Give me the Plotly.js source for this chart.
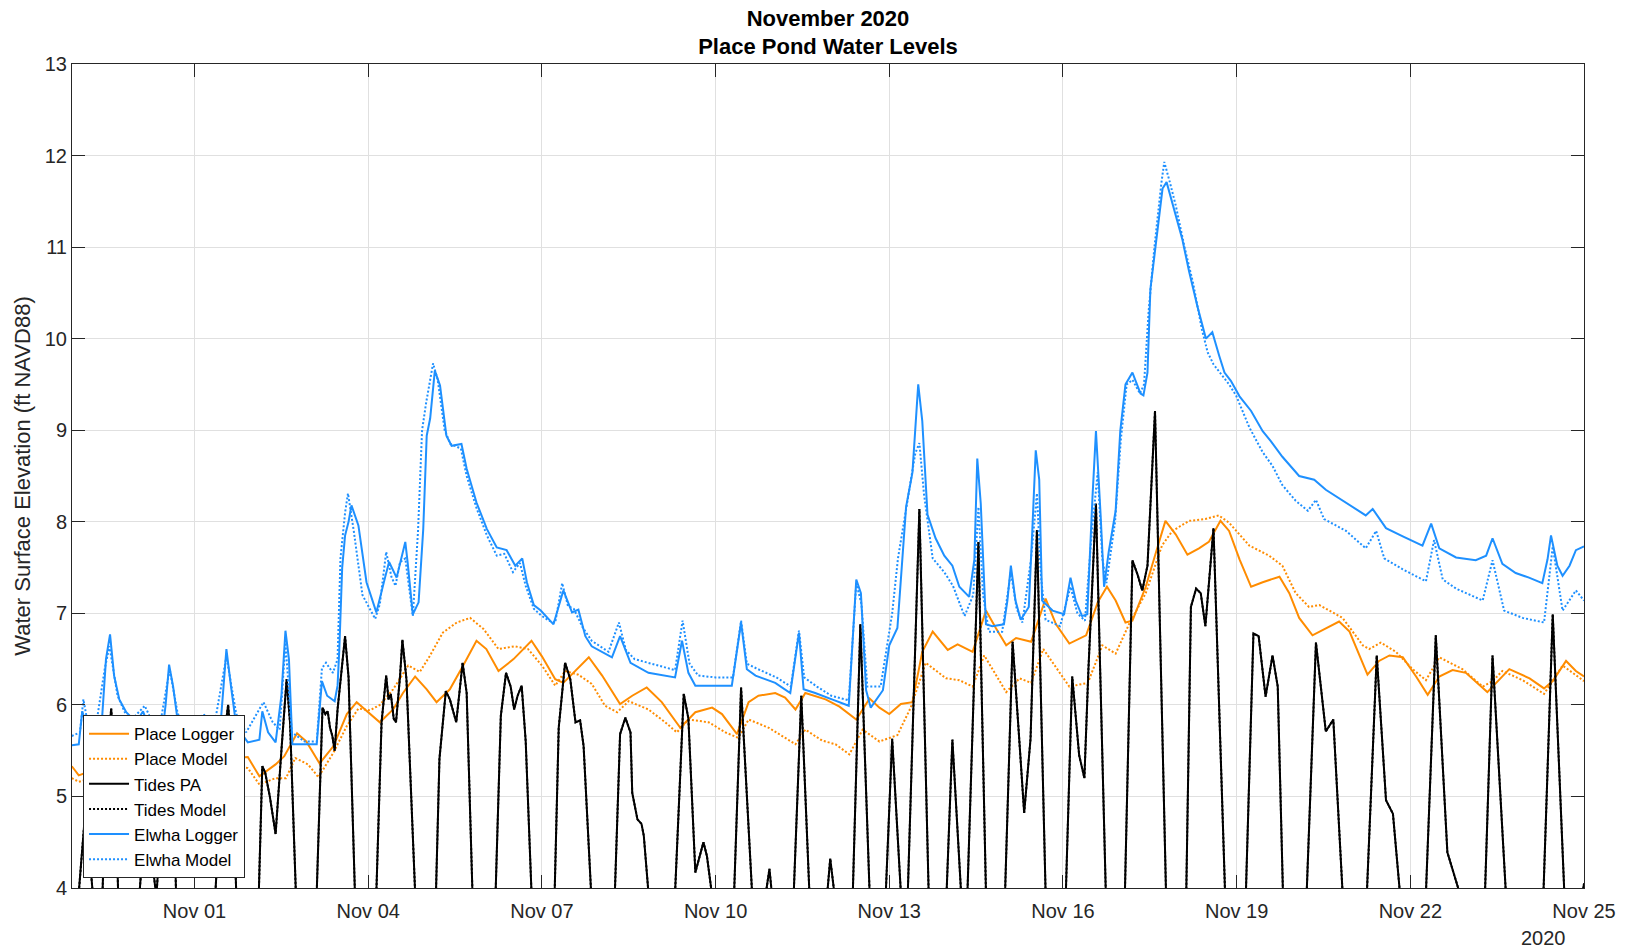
<!DOCTYPE html>
<html>
<head>
<meta charset="utf-8">
<script src="https://cdn.plot.ly/plotly-3.0.1.min.js"></script>
<style>html,body{margin:0;padding:0;background:#fff;}#chart{width:1629px;height:952px;}</style>
</head>
<body>
<div id="chart"></div>
<script>
// Time values are days since 2020-11-01 00:00

const elwhaLoggerDay = [-2.12,-2.0,-1.94,-1.90,-1.85,-1.70,-1.62,-1.53,-1.46,-1.39,
-1.30,-1.18,-1.01,-0.89,-0.80,-0.66,-0.55,-0.50,-0.44,-0.37,
-0.28,-0.08,0.09,0.16,0.23,0.43,0.50,0.55,0.63,0.72,
0.92,1.12,1.17,1.27,1.40,1.50,1.57,1.63,1.69,2.11,
2.20,2.29,2.42,2.47,2.50,2.55,2.60,2.66,2.71,2.83,
2.97,3.14,3.29,3.36,3.49,3.58,3.64,3.68,3.77,3.87,
3.95,4.01,4.07,4.15,4.24,4.35,4.44,4.61,4.70,4.87,
5.05,5.22,5.39,5.54,5.66,5.74,5.86,5.98,6.12,6.20,
6.37,6.52,6.63,6.75,6.86,7.21,7.35,7.53,7.84,8.13,
8.30,8.42,8.53,8.65,9.28,9.44,9.54,9.69,10.03,10.29,
10.44,10.52,10.72,11.01,11.30,11.43,11.51,11.60,11.68,11.89,
12.00,12.14,12.29,12.40,12.50,12.57,12.66,12.80,12.95,13.09,
13.21,13.38,13.47,13.52,13.58,13.67,13.78,13.98,14.04,14.10,
14.18,14.27,14.41,14.47,14.53,14.59,14.64,14.82,15.02,15.13,
15.22,15.33,15.42,15.51,15.57,15.65,15.71,15.79,15.91,15.99,
16.08,16.20,16.34,16.39,16.46,16.51,16.60,16.72,16.79,16.92,
17.06,17.18,17.32,17.47,17.58,17.70,17.79,17.90,18.05,18.25,
18.45,18.59,18.79,19.08,19.20,19.34,19.54,19.83,20.06,20.23,
20.35,20.58,20.87,21.21,21.36,21.50,21.79,22.13,22.31,22.42,
22.59,22.82,23.05,23.28,23.37,23.43,23.54,23.63,23.75,23.86,
24.0];
const elwhaLoggerFt = [5.56,5.57,5.93,5.85,5.63,5.55,5.64,6.5,6.77,6.32,
6.06,5.92,5.81,5.93,5.77,5.70,5.73,6.0,6.44,6.2,
5.77,5.70,5.66,5.84,5.65,5.63,6.2,6.61,6.2,5.77,
5.59,5.62,5.93,5.70,5.59,6.1,6.81,6.5,5.57,5.57,
6.26,6.1,6.04,6.21,6.6,7.5,7.85,8.0,8.18,7.96,
7.34,7.01,7.39,7.56,7.39,7.63,7.78,7.56,6.99,7.12,
7.92,8.94,9.13,9.65,9.49,8.94,8.83,8.85,8.58,8.21,
7.92,7.72,7.69,7.52,7.6,7.34,7.09,7.03,6.94,6.88,
7.25,7.01,7.04,6.75,6.64,6.52,6.75,6.46,6.35,6.32,
6.3,6.7,6.35,6.21,6.21,6.9,6.39,6.32,6.24,6.13,
6.79,6.17,6.13,6.06,5.99,7.37,7.22,6.16,5.97,6.16,
6.65,6.84,8.16,8.54,9.5,9.1,8.08,7.82,7.63,7.52,
7.29,7.18,7.59,8.69,8.2,6.88,6.86,6.88,7.14,7.52,
7.14,6.93,7.07,7.9,8.78,8.46,7.14,7.03,6.99,7.39,
7.14,6.97,6.99,8.27,8.99,8.08,7.29,7.67,8.12,8.99,
9.5,9.63,9.4,9.38,9.63,10.54,11.02,11.64,11.71,11.42,
11.09,10.73,10.36,10.0,10.07,9.81,9.63,9.54,9.37,9.21,
8.99,8.88,8.71,8.5,8.48,8.46,8.35,8.23,8.14,8.07,
8.14,7.93,7.84,7.74,7.98,7.71,7.61,7.58,7.63,7.82,
7.54,7.44,7.39,7.33,7.59,7.85,7.52,7.41,7.52,7.69,
7.73];

const elwhaModelDay = [-2.12,-1.98,-1.92,-1.86,-1.72,-1.55,-1.47,-1.33,-1.13,-0.86,
-0.72,-0.60,-0.43,-0.29,-0.03,0.16,0.32,0.55,0.72,0.89,
1.19,1.35,1.47,1.57,1.68,1.90,2.11,2.20,2.27,2.39,
2.47,2.52,2.60,2.65,2.75,2.90,3.12,3.20,3.31,3.40,
3.47,3.55,3.64,3.70,3.77,3.86,3.93,4.00,4.12,4.20,
4.32,4.42,4.60,4.70,4.87,5.05,5.22,5.35,5.50,5.62,
5.72,5.86,5.98,6.12,6.23,6.35,6.45,6.55,6.70,6.86,
7.15,7.33,7.45,7.60,7.90,8.20,8.30,8.43,8.55,8.70,
9.00,9.30,9.44,9.54,9.70,10.05,10.30,10.44,10.53,10.75,
11.00,11.30,11.43,11.52,11.62,11.85,12.05,12.15,12.30,12.45,
12.52,12.60,12.75,12.95,13.10,13.30,13.45,13.54,13.62,13.72,
13.95,14.10,14.20,14.30,14.45,14.55,14.62,14.70,14.95,15.13,
15.25,15.38,15.50,15.60,15.68,15.75,15.90,16.00,16.10,16.20,
16.33,16.40,16.48,16.58,16.70,16.75,16.85,16.95,17.10,17.25,
17.40,17.50,17.60,17.75,17.87,17.99,18.22,18.45,18.62,18.79,
19.02,19.23,19.37,19.51,19.89,20.23,20.41,20.55,20.87,21.27,
21.41,21.56,21.79,22.25,22.42,22.62,22.94,23.31,23.46,23.63,
23.86,24.00];
const elwhaModelFt = [5.66,5.70,6.06,5.85,5.70,6.40,6.64,6.10,5.81,5.99,
5.80,5.77,6.39,5.90,5.77,5.90,5.70,6.53,5.90,5.70,
6.03,5.81,5.73,6.68,5.70,5.60,5.60,6.40,6.46,6.35,
6.50,7.60,8.10,8.31,7.90,7.20,6.94,7.10,7.67,7.40,
7.30,7.56,7.60,7.30,6.97,7.90,9.00,9.30,9.73,9.55,
9.00,8.85,8.80,8.50,8.15,7.85,7.63,7.65,7.45,7.55,
7.30,7.05,6.98,6.92,6.90,7.33,7.08,7.05,6.85,6.70,
6.58,6.90,6.60,6.50,6.45,6.40,6.38,6.92,6.45,6.32,
6.30,6.30,6.92,6.45,6.40,6.30,6.20,6.81,6.30,6.20,
6.10,6.05,7.33,7.10,6.20,6.20,7.00,7.60,8.20,8.75,
8.86,8.30,7.60,7.45,7.30,6.97,7.20,8.16,7.20,6.80,
6.80,7.45,7.05,6.90,7.60,8.31,7.40,6.93,6.86,7.29,
7.00,6.92,7.90,8.54,7.60,7.33,8.00,8.90,9.50,9.55,
9.40,9.50,10.30,11.00,11.70,11.93,11.70,11.45,11.00,10.60,
10.10,9.85,9.72,9.60,9.50,9.38,9.03,8.76,8.61,8.40,
8.23,8.12,8.24,8.03,7.90,7.71,7.90,7.60,7.48,7.35,
7.80,7.37,7.27,7.14,7.58,7.03,6.95,6.90,7.73,7.03,
7.25,7.14];

const placeLoggerDay = [-2.12,-2.00,-1.70,-1.30,-0.90,-0.50,-0.10,0.30,0.70,0.92,
1.12,1.40,1.55,1.77,1.93,2.16,2.40,2.63,2.80,2.97,
3.20,3.43,3.60,3.81,4.01,4.18,4.41,4.64,4.87,5.04,
5.25,5.51,5.82,6.00,6.23,6.37,6.60,6.81,7.04,7.35,
7.56,7.81,8.07,8.39,8.65,8.94,9.11,9.37,9.57,9.74,
10.03,10.20,10.38,10.55,10.90,11.14,11.43,11.66,11.83,12.00,
12.20,12.40,12.57,12.75,13.01,13.18,13.44,13.67,13.84,14.02,
14.19,14.45,14.70,14.88,15.11,15.40,15.60,15.76,15.91,16.08,
16.20,16.43,16.66,16.77,16.95,17.15,17.35,17.52,17.72,17.87,
18.05,18.25,18.45,18.74,18.91,19.08,19.31,19.49,19.77,19.95,
20.26,20.46,20.64,20.87,21.10,21.30,21.50,21.73,21.96,22.33,
22.48,22.71,23.06,23.31,23.46,23.69,23.86,24.00];
const placeLoggerFt = [5.33,5.23,5.30,5.45,5.35,5.50,5.38,5.52,5.42,5.43,
5.22,5.35,5.44,5.69,5.60,5.36,5.55,5.90,6.03,5.94,
5.81,5.95,6.13,6.31,6.17,6.03,6.17,6.43,6.70,6.61,
6.37,6.50,6.70,6.53,6.28,6.24,6.39,6.52,6.32,6.01,
6.10,6.19,6.03,5.75,5.92,5.97,5.90,5.68,6.03,6.10,
6.13,6.08,5.95,6.13,6.06,5.98,5.84,6.07,5.97,5.90,
6.01,6.03,6.58,6.80,6.60,6.66,6.58,7.03,6.84,6.65,
6.73,6.69,7.16,6.88,6.67,6.76,7.12,7.29,7.14,6.90,
6.92,7.29,7.78,8.01,7.86,7.64,7.71,7.78,8.01,7.90,
7.59,7.29,7.34,7.40,7.22,6.95,6.76,6.82,6.91,6.80,
6.33,6.48,6.54,6.52,6.31,6.11,6.31,6.38,6.35,6.14,
6.24,6.39,6.29,6.18,6.26,6.48,6.37,6.31];

const placeModelDay = [-2.12,-2.00,-1.50,-1.00,-0.50,0.00,0.50,0.92,1.12,1.40,
1.58,1.74,1.96,2.14,2.40,2.63,2.83,3.03,3.20,3.43,
3.69,3.89,4.06,4.29,4.53,4.76,4.99,5.25,5.53,5.76,
6.00,6.23,6.40,6.63,6.86,7.09,7.30,7.50,7.84,8.13,
8.33,8.53,8.88,9.17,9.39,9.57,9.92,10.15,10.38,10.55,
10.84,11.07,11.31,11.54,11.83,12.14,12.37,12.63,12.98,13.21,
13.44,13.64,14.02,14.25,14.45,14.66,15.11,15.43,15.68,15.91,
16.14,16.43,16.71,16.89,17.18,17.46,17.69,17.87,18.22,18.56,
18.79,19.02,19.25,19.43,19.83,20.18,20.29,20.49,20.75,21.04,
21.27,21.50,21.90,22.25,22.42,22.59,22.94,23.31,23.63,24.00];
const placeModelFt = [5.20,5.16,5.25,5.20,5.30,5.25,5.35,5.31,5.13,5.20,
5.20,5.42,5.35,5.21,5.48,5.77,5.96,5.94,6.00,6.17,
6.43,6.36,6.53,6.79,6.90,6.95,6.83,6.61,6.64,6.61,
6.43,6.21,6.37,6.33,6.23,5.99,5.92,6.04,5.95,5.81,
5.70,5.84,5.81,5.70,5.64,5.84,5.75,5.66,5.57,5.73,
5.61,5.57,5.46,5.73,5.60,5.67,5.97,6.46,6.29,6.27,
6.20,6.54,6.14,6.29,6.24,6.61,6.20,6.24,6.65,6.56,
6.88,7.22,7.74,7.90,8.01,8.03,8.07,7.99,7.74,7.63,
7.52,7.22,7.07,7.09,6.95,6.65,6.61,6.68,6.58,6.39,
6.27,6.52,6.39,6.20,6.26,6.37,6.27,6.12,6.43,6.26];

const tidesDay = [-2.12,-2.00,-1.88,-1.76,-1.68,-1.59,-1.52,-1.44,-1.38,-1.32,
-1.14,-0.95,-0.85,-0.75,-0.66,-0.55,-0.43,-0.37,-0.32,0.00,
0.36,0.50,0.58,0.64,0.72,0.92,1.11,1.17,1.22,1.30,
1.40,1.50,1.59,1.65,1.75,1.93,2.11,2.21,2.26,2.30,
2.34,2.38,2.42,2.47,2.60,2.66,2.77,2.95,3.14,3.23,
3.31,3.35,3.39,3.44,3.48,3.55,3.59,3.66,3.81,3.99,
4.17,4.23,4.34,4.41,4.52,4.63,4.70,4.80,5.00,5.20,
5.29,5.38,5.46,5.52,5.58,5.65,5.72,5.82,6.00,6.22,
6.29,6.40,6.49,6.58,6.66,6.72,6.85,7.05,7.26,7.35,
7.44,7.53,7.56,7.65,7.72,7.76,7.84,8.07,8.30,8.45,
8.53,8.65,8.79,8.85,8.94,9.13,9.32,9.44,9.63,9.75,
9.87,9.93,9.97,10.16,10.35,10.48,10.62,10.78,10.93,10.98,
11.05,11.20,11.37,11.50,11.66,11.80,11.94,12.05,12.20,12.26,
12.32,12.52,12.68,12.84,12.99,13.09,13.24,13.30,13.35,13.54,
13.67,13.84,14.00,14.13,14.24,14.33,14.44,14.55,14.70,14.88,
15.05,15.16,15.28,15.37,15.44,15.57,15.74,15.90,16.07,16.20,
16.29,16.37,16.46,16.59,16.78,16.95,17.13,17.21,17.30,17.38,
17.46,17.53,17.60,17.80,18.00,18.16,18.29,18.38,18.50,18.62,
18.71,18.80,19.00,19.21,19.37,19.54,19.67,19.83,20.04,20.25,
20.42,20.58,20.70,20.82,21.05,21.27,21.44,21.64,21.85,22.07,
22.29,22.42,22.65,22.97,23.30,23.46,23.66,23.82,24.00];
const tidesFt = [3.0,3.95,4.9,3.95,3.0,3.95,5.35,5.96,5.35,3.95,
3.0,3.95,4.8,4.4,3.9,5.0,5.82,5.3,3.95,2.8,
3.95,5.6,6.00,5.5,3.95,3.0,3.95,5.33,5.26,5.0,
4.59,5.5,6.28,5.8,3.95,3.0,3.95,5.97,5.90,5.93,
5.75,5.66,5.50,5.95,6.75,6.3,3.95,3.0,3.95,5.81,
6.32,6.06,6.12,5.85,5.81,6.32,6.71,6.28,3.95,3.0,
3.95,5.41,6.15,6.06,5.81,6.46,6.13,3.95,3.0,3.95,
5.88,6.35,6.20,5.95,6.10,6.21,5.60,3.95,3.0,3.95,
5.75,6.46,6.28,5.81,5.83,5.55,3.95,3.0,3.95,5.68,
5.86,5.70,5.04,4.75,4.70,4.57,3.95,3.0,3.95,6.12,
5.85,4.17,4.50,4.35,3.95,3.0,3.95,6.19,3.95,3.0,
3.95,4.21,3.95,3.0,3.95,6.10,3.95,3.0,3.95,4.32,
3.95,3.0,3.95,6.88,3.95,3.0,3.95,5.63,3.95,3.5,
3.95,8.14,3.95,3.0,3.95,5.62,3.95,3.5,3.95,7.78,
3.95,3.0,3.95,6.69,5.67,4.82,5.63,7.91,3.95,3.0,
3.95,6.31,5.45,5.20,6.39,8.20,3.95,3.0,3.95,7.58,
7.42,7.25,7.52,9.21,3.95,3.0,3.95,7.07,7.27,7.22,
6.86,7.44,7.93,3.95,3.0,3.95,6.78,6.75,6.09,6.54,
6.20,3.95,3.0,3.95,6.68,5.71,5.84,3.95,3.0,3.95,
6.54,4.96,4.81,3.95,3.0,3.95,6.76,4.39,3.95,3.0,
3.95,6.54,3.95,3.0,3.95,6.99,3.95,3.2,4.05];

const xTickStartDay = -2.117;
const xTickEndDay = 24;

const T0 = Date.UTC(2020, 10, 1);
function toDate(d) {
  return new Date(T0 + Math.round(d * 86400000)).toISOString().slice(0, 19).replace('T', ' ');
}
const dates = arr => arr.map(toDate);

const ORANGE = '#FF8C00';
const BLUE = '#1E90FF';
const BLACK = '#000000';

const traces = [
  {name: 'Place Logger', x: dates(placeLoggerDay), y: placeLoggerFt, mode: 'lines', line: {color: ORANGE, width: 2}},
  {name: 'Place Model', x: dates(placeModelDay), y: placeModelFt, mode: 'lines', line: {color: ORANGE, width: 2, dash: '2px,2px'}},
  {name: 'Tides PA', x: dates(tidesDay), y: tidesFt, mode: 'lines', line: {color: BLACK, width: 2}},
  {name: 'Tides Model', x: dates(tidesDay), y: tidesFt, mode: 'lines', line: {color: BLACK, width: 2, dash: '2px,2px'}},
  {name: 'Elwha Logger', x: dates(elwhaLoggerDay), y: elwhaLoggerFt, mode: 'lines', line: {color: BLUE, width: 2}},
  {name: 'Elwha Model', x: dates(elwhaModelDay), y: elwhaModelFt, mode: 'lines', line: {color: BLUE, width: 2, dash: '2px,2px'}}
];

const FONT = 'Liberation Sans, Arial, Helvetica, sans-serif';
const AX = '#262626';
const GRID = '#e0e0e0';

const layout = {
  width: 1629, height: 952,
  margin: {l: 72, r: 45, t: 64, b: 64},
  paper_bgcolor: '#ffffff', plot_bgcolor: '#ffffff',
  font: {family: FONT, color: AX, size: 20},
  showlegend: true,
  title: {
    text: '<b>November 2020</b><br><b>Place Pond Water Levels</b>',
    font: {family: FONT, size: 22, color: '#000000'},
    x: 0.5, xref: 'paper', xanchor: 'center',
    y: 0.973, yref: 'container', yanchor: 'top'
  },
  xaxis: {
    type: 'date',
    range: [toDate(xTickStartDay), toDate(xTickEndDay)],
    tickformat: '%b %d', dtick: 3 * 86400000, tick0: '2020-11-01',
    ticks: 'inside', ticklen: 13, tickwidth: 1, tickcolor: AX,
    showline: true, linecolor: AX, linewidth: 1, mirror: 'ticks',
    showgrid: true, gridcolor: GRID, gridwidth: 1, zeroline: false,
    ticklabelstandoff: 5,
    tickfont: {family: FONT, size: 20, color: AX}
  },
  yaxis: {
    range: [4, 13], dtick: 1, tick0: 4,
    ticks: 'inside', ticklen: 13, tickwidth: 1, tickcolor: AX,
    showline: true, linecolor: AX, linewidth: 1, mirror: 'ticks',
    showgrid: true, gridcolor: GRID, gridwidth: 1, zeroline: false,
    tickfont: {family: FONT, size: 20, color: AX},
    title: {text: 'Water Surface Elevation (ft NAVD88)', font: {family: FONT, size: 22, color: AX}, standoff: 8}
  },
  legend: {
    x: 0.0073, y: 0.012, xanchor: 'left', yanchor: 'bottom',
    bgcolor: '#ffffff', bordercolor: AX, borderwidth: 1,
    font: {family: FONT, size: 17, color: '#000000'},
    itemwidth: 40,
    tracegroupgap: 0
  },
  annotations: [{
    text: '2020', xref: 'paper', yref: 'paper', x: 0.9735, y: -0.0607,
    xanchor: 'center', yanchor: 'middle', showarrow: false,
    font: {family: FONT, size: 20, color: AX}
  }]
};

Plotly.newPlot('chart', traces, layout, {staticPlot: true, displayModeBar: false});
</script>
</body>
</html>
